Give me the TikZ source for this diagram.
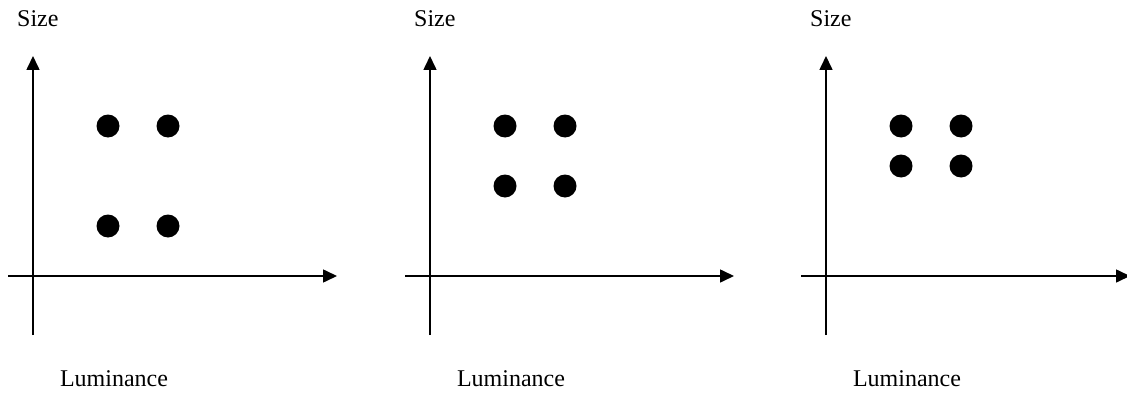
\documentclass[tikz,border=0pt]{standalone}
\usepackage{fontspec}
\setmainfont{Liberation Serif}
\usetikzlibrary{arrows.meta, positioning}

\begin{document}
\begin{tikzpicture}[x=1pt,y=-1pt,
 axis/.style={line width=1.6pt,-{Triangle[length=14pt,width=13pt]}},
 dot/.style={circle,fill=black,inner sep=0pt,minimum size=23pt},
 lbl/.style={font=\fontsize{24}{28}\selectfont,inner sep=0pt}]
 \useasboundingbox (0,0) rectangle (1127,396);
 \foreach \n/\dx/\low in {1/0/226, 2/397/186, 3/793/166} {
   % axes of panel \n
   \coordinate (ybot\n) at (33+\dx,335);
   \coordinate (ytop\n) at (33+\dx,56);
   \coordinate (xleft\n) at (8+\dx,276);
   \coordinate (xright\n) at (337+\dx,276);
   \draw[axis] (ybot\n) -- (ytop\n);
   \draw[axis] (xleft\n) -- (xright\n);
   \node[lbl,anchor=base west] (size\n) at (17+\dx,27) {Size};
   \node[lbl,anchor=base] (lum\n) at (114+\dx,386) {Luminance};
   % four dots
   \node[dot] (dot\n a) at (108+\dx,126) {};
   \node[dot] (dot\n b) at (168+\dx,126) {};
   \node[dot] (dot\n c) at (108+\dx,\low) {};
   \node[dot] (dot\n d) at (168+\dx,\low) {};
 }
\end{tikzpicture}
\end{document}
